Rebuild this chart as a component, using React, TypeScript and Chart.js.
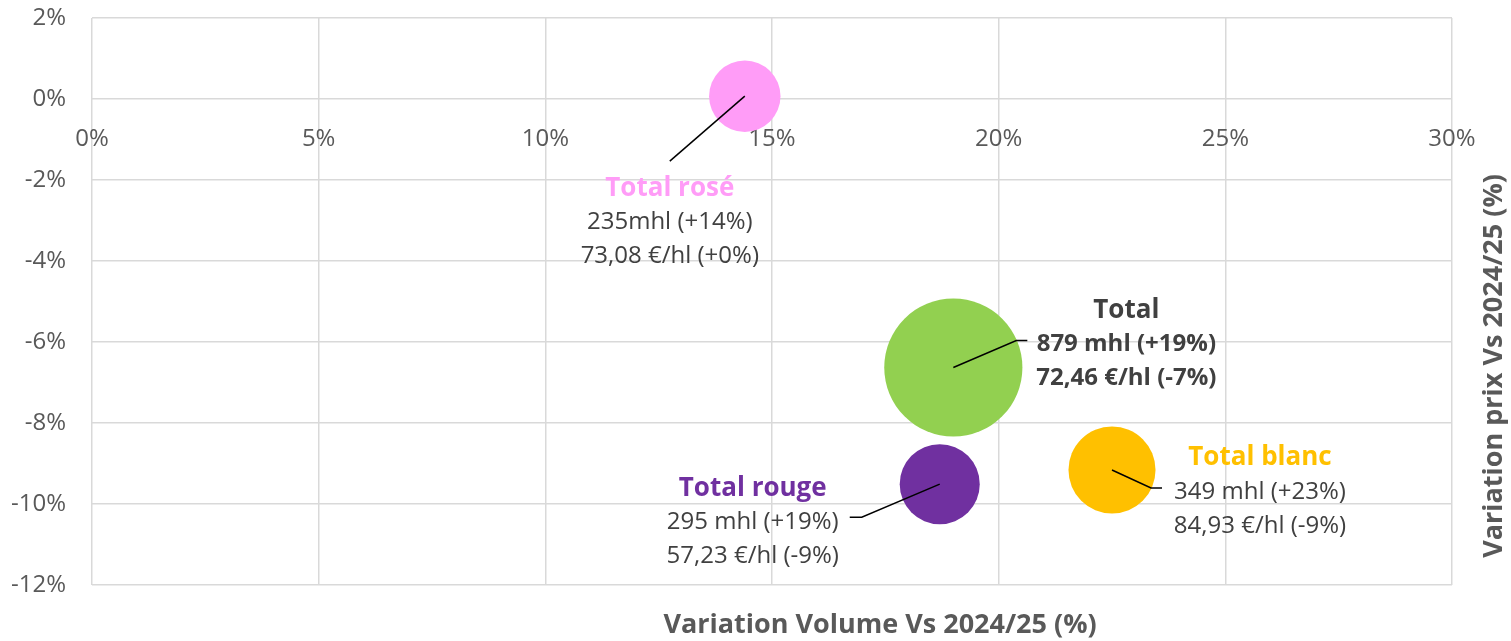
import React, { useEffect, useRef } from "react";
import { Chart, registerables } from "chart.js";

Chart.register(...registerables);

const categories = ["Total rosé", "Total", "Total rouge", "Total blanc"];
const volumeVariation = [14.4, 19.0, 18.7, 22.5];
const priceVariation = [0.07, -6.63, -9.51, -9.16];
const volumes = [235, 879, 295, 349];
const volumeLabels = ["235mhl (+14%)", "879 mhl (+19%)", "295 mhl (+19%)", "349 mhl (+23%)"];
const priceLabels = ["73,08 €/hl (+0%)", "72,46 €/hl (-7%)", "57,23 €/hl (-9%)", "84,93 €/hl (-9%)"];
const xTicks = [0, 5, 10, 15, 20, 25, 30];
const yTicks = [2, 0, -2, -4, -6, -8, -10, -12];

const bubbleColors = ["#FF9CF7", "#92D050", "#7030A0", "#FFC000"];
const nameColors = ["#FF9CF7", "#404040", "#7030A0", "#FFC000"];
const valueBold = [false, true, false, false];
// label offsets relative to bubble centre (px)
const labelStyle = [
  { dx: -75, dy: 92, line: [[0, 0], [-75, 65]] },
  { dx: 173, dy: -57, line: [[0, 0], [63, -27], [74, -27]] },
  { dx: -187, dy: 4, line: [[0, 0], [-78, 33], [-90, 33]] },
  { dx: 148, dy: -12, line: [[0, 0], [39, 18], [50, 18]] },
];

const FONT = "'Open Sans', Lato, sans-serif";

const labelPlugin = {
  id: "bubbleLabels",
  afterDatasetsDraw(chart: any) {
    const ctx = chart.ctx;
    const meta = chart.getDatasetMeta(0);
    ctx.save();
    meta.data.forEach((el: any, i: number) => {
      const { x, y } = el.getProps(["x", "y"], true);
      const st = labelStyle[i];
      ctx.strokeStyle = "#000";
      ctx.lineWidth = 1.5;
      ctx.beginPath();
      st.line.forEach((p: number[], k: number) => {
        if (k === 0) ctx.moveTo(x + p[0], y + p[1]);
        else ctx.lineTo(x + p[0], y + p[1]);
      });
      ctx.stroke();
      const cx = x + st.dx;
      const cy = y + st.dy;
      ctx.textAlign = "center";
      ctx.textBaseline = "middle";
      ctx.fillStyle = nameColors[i];
      ctx.font = `bold 26px ${FONT}`;
      ctx.fillText(categories[i], cx, cy);
      ctx.fillStyle = "#404040";
      ctx.font = `${valueBold[i] ? "bold " : ""}24px ${FONT}`;
      ctx.fillText(volumeLabels[i], cx, cy + 34);
      ctx.fillText(priceLabels[i], cx, cy + 68);
    });
    // axis titles
    ctx.fillStyle = "#595959";
    ctx.font = `bold 27px ${FONT}`;
    ctx.textAlign = "center";
    ctx.textBaseline = "middle";
    ctx.fillText("Variation Volume Vs 2024/25 (%)", 880, 625);
    ctx.translate(1494, 366);
    ctx.rotate(-Math.PI / 2);
    ctx.fillText("Variation prix Vs 2024/25 (%)", 0, 0);
    ctx.restore();
  },
};

export default function App() {
  const ref = useRef<HTMLCanvasElement>(null);
  useEffect(() => {
    if (!ref.current) return;
    const chart = new Chart(ref.current, {
      type: "bubble",
      data: {
        datasets: [
          {
            label: "Vins",
            data: categories.map((_, i) => ({
              x: volumeVariation[i],
              y: priceVariation[i],
              r: 2.33 * Math.sqrt(volumes[i]),
            })),
            backgroundColor: bubbleColors,
            borderWidth: 0,
          },
        ],
      },
      options: {
        animation: false,
        responsive: false,
        maintainAspectRatio: false,
        layout: { autoPadding: false, padding: { left: 0, right: 59, top: 18, bottom: 56 } },
        plugins: { legend: { display: false }, tooltip: { enabled: false } },
        scales: {
          x: {
            type: "linear",
            axis: "x",
            position: { y: 0 },
            min: 0,
            max: 30,
            afterBuildTicks: (s: any) => {
              s.ticks = xTicks.map((v) => ({ value: v }));
            },
            afterFit: (s: any) => {
              s.height = 0;
              s.paddingLeft = 0;
              s.paddingRight = 0;
              s.paddingTop = 0;
              s.paddingBottom = 0;
            },
            ticks: {
              callback: (v: any) => `${v}%`,
              color: "#595959",
              font: { family: FONT, size: 24 },
              padding: 26,
              maxRotation: 0,
            },
            grid: { color: "#D9D9D9", lineWidth: 1.5, drawTicks: false },
            border: { display: false },
          },
          y: {
            type: "linear",
            position: "left",
            min: -12,
            max: 2,
            afterBuildTicks: (s: any) => {
              s.ticks = yTicks.map((v) => ({ value: v }));
            },
            afterFit: (s: any) => {
              s.width = 92;
              s.paddingTop = 0;
              s.paddingBottom = 0;
            },
            ticks: {
              callback: (v: any) => `${v}%`,
              color: "#595959",
              font: { family: FONT, size: 24 },
              padding: 26,
            },
            grid: { color: "#D9D9D9", lineWidth: 1.5, drawTicks: false },
            border: { display: false },
          },
        },
      },
      plugins: [labelPlugin],
    } as any);
    return () => chart.destroy();
  }, []);
  return (
    <div style={{ position: "fixed", left: 0, top: 0, width: 1511, height: 641, background: "#fff" }}>
      <canvas ref={ref} width={1511} height={641} />
    </div>
  );
}
